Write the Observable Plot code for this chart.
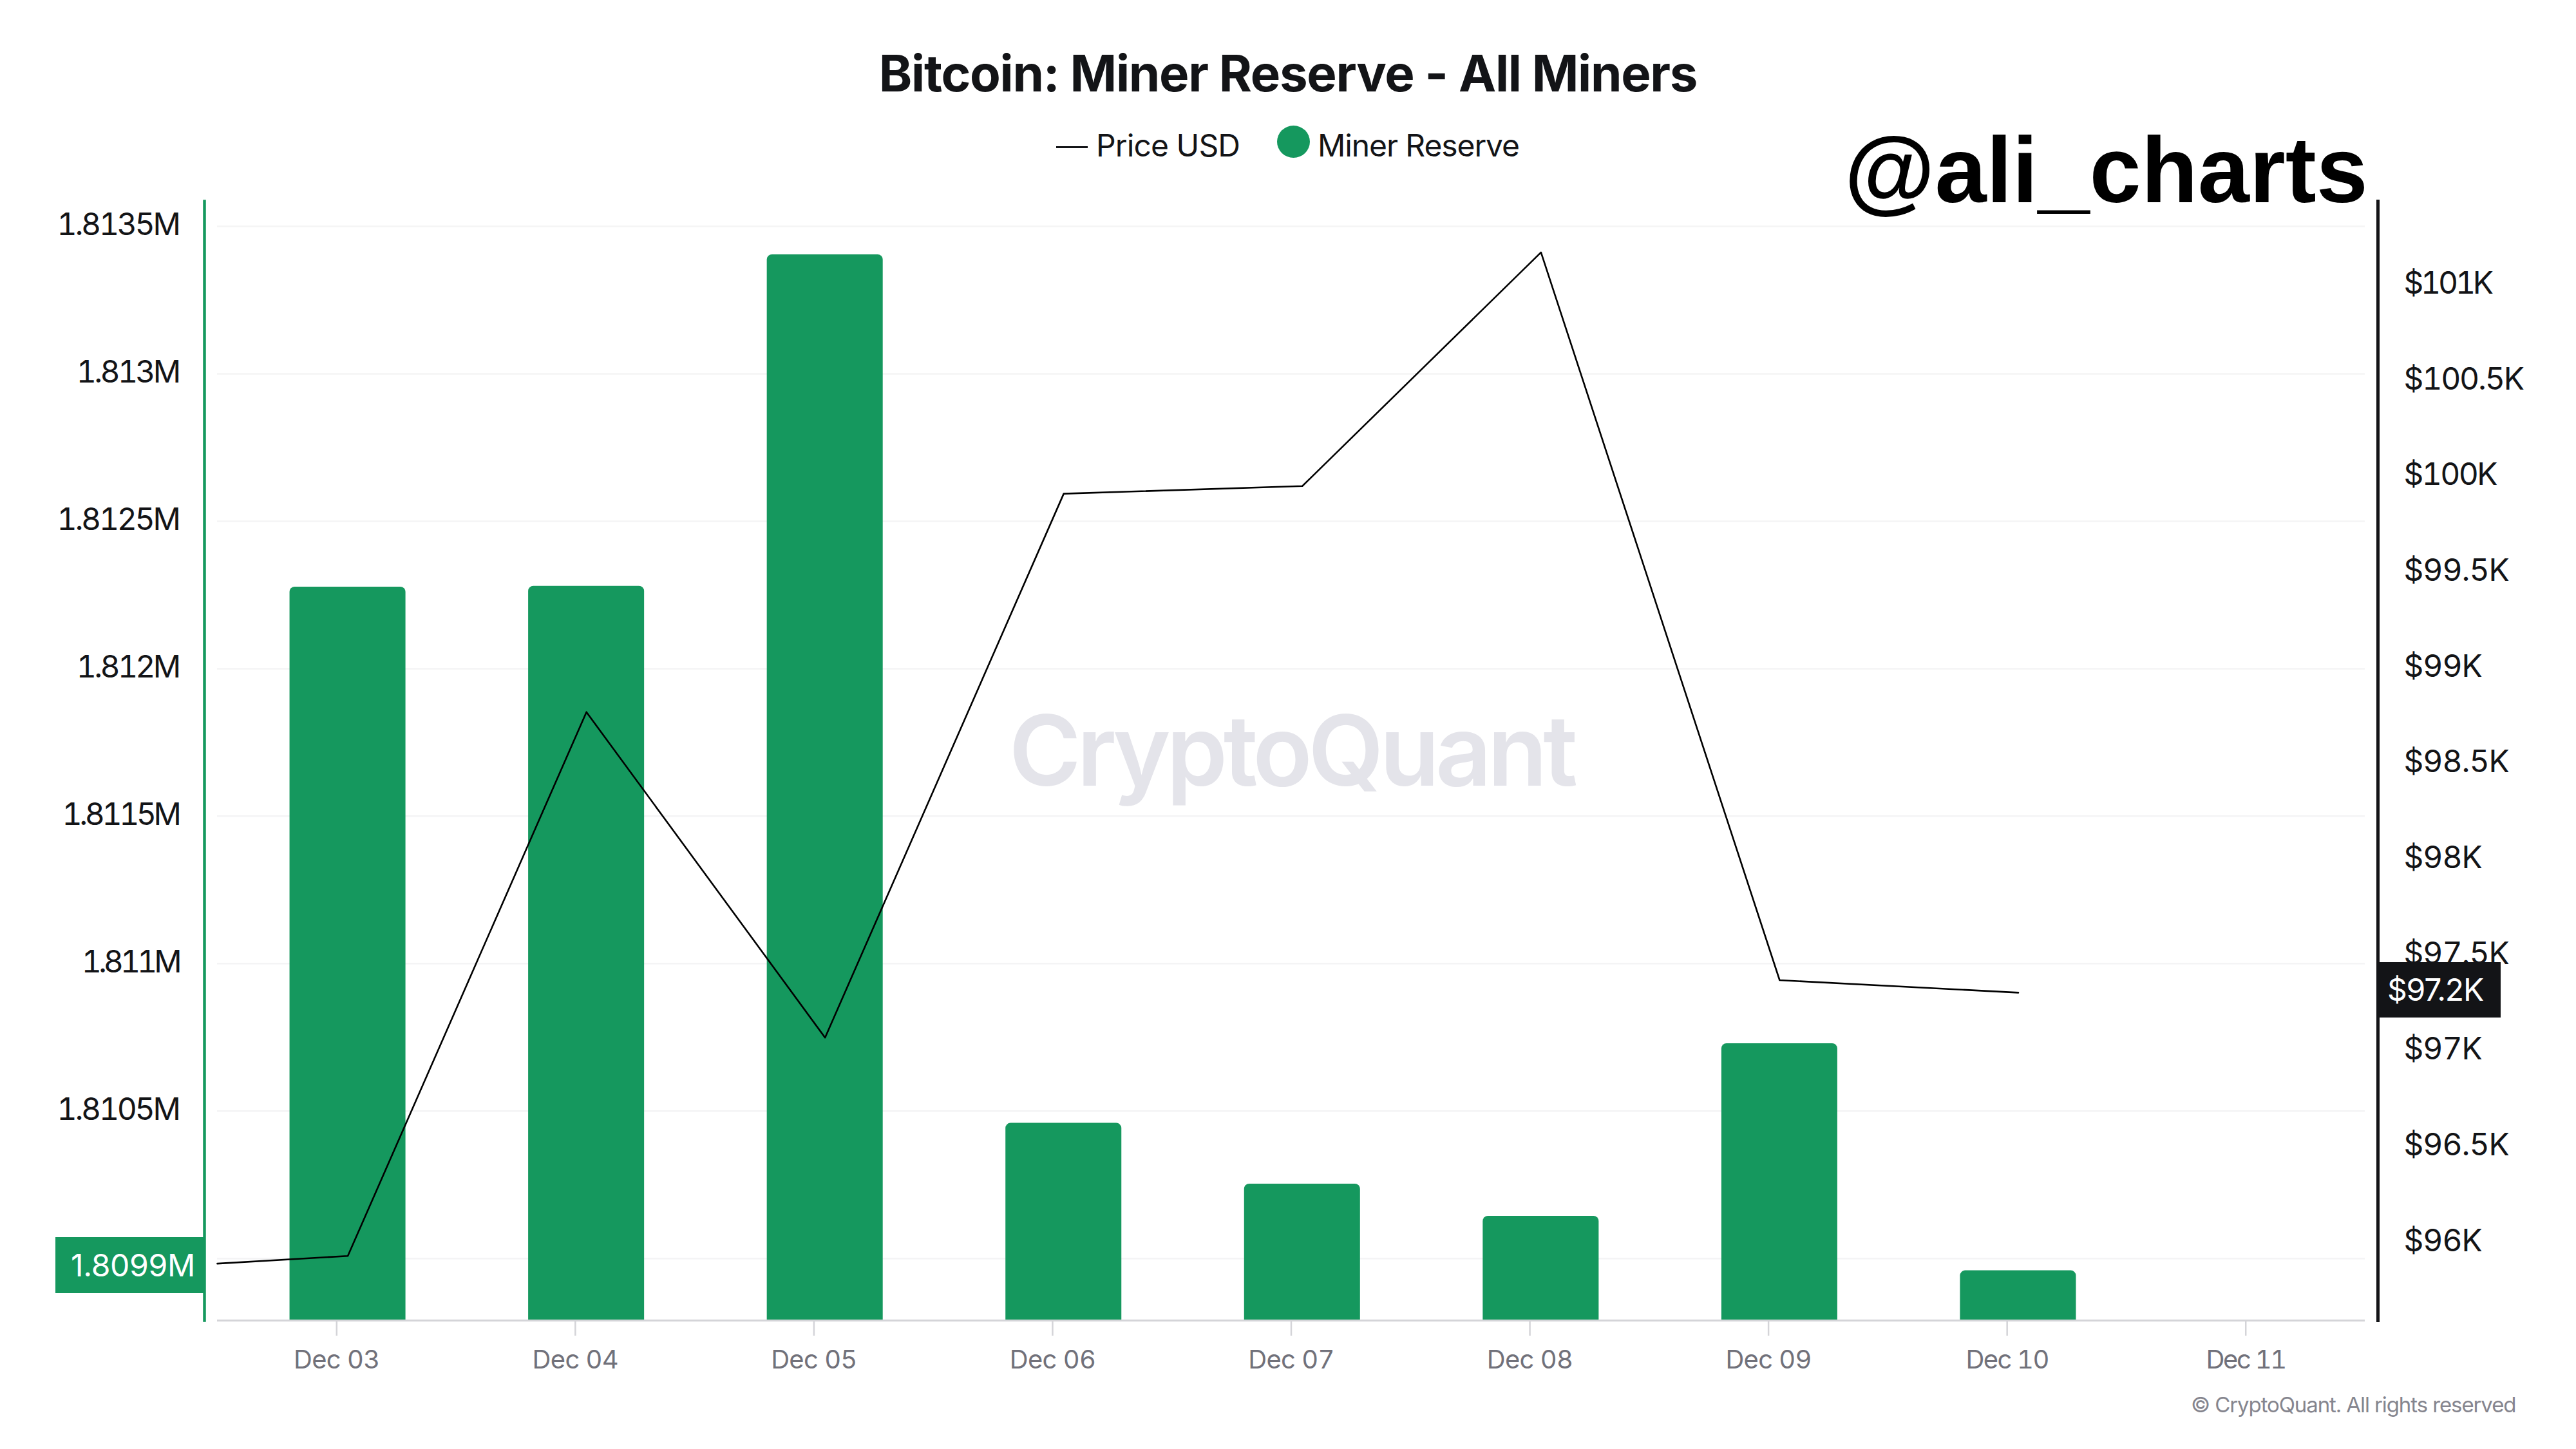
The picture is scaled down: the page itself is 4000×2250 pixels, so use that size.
<!DOCTYPE html>
<html>
<head>
<meta charset="utf-8">
<script src="https://cdn.jsdelivr.net/npm/d3@7"></script>
<script src="https://cdn.jsdelivr.net/npm/@observablehq/plot@0.6"></script>
<style>
  html, body { margin: 0; padding: 0; background: #fff; }
  #page { position: relative; width: 4000px; height: 2250px; overflow: hidden; font-family: Inter, sans-serif; color: #131417; }
  #page svg { position: absolute; left: 0; top: 0; }
  .abs { position: absolute; white-space: nowrap; line-height: 1; }
</style>
</head>
<body>
<div id="page"></div>
<script>
const days = ["2024-12-03","2024-12-04","2024-12-05","2024-12-06","2024-12-07","2024-12-08","2024-12-09","2024-12-10"];
const tickDays = [...days, "2024-12-11"];
const reserve = [1812277, 1812280, 1813404, 1810459, 1810253, 1810144, 1810729, 1809959];
const price = [95.92, 98.76, 97.06, 99.90, 99.94, 101.16, 97.36, 97.295];
const priceAtLeftEdge = 95.88;
const reserveTicks = [1810000, 1810500, 1811000, 1811500, 1812000, 1812500, 1813000, 1813500];
const reserveLabels = ["", "1.8105M", "1.811M", "1.8115M", "1.812M", "1.8125M", "1.813M", "1.8135M"];
const priceTicks = [96, 96.5, 97, 97.5, 98, 98.5, 99, 99.5, 100, 100.5, 101];
const priceLabels = ["$96K","$96.5K","$97K","$97.5K","$98K","$98.5K","$99K","$99.5K","$100K","$100.5K","$101K"];
const reserveDomain = [1809790, 1813585];
const priceDomain = [95.583, 101.427];

const GREEN = "#15985e", INK = "#131417", GREY = "#71717a";
const utc = s => new Date(s + "T00:00:00Z");
const hours = (d, h) => new Date(d.getTime() + h * 36e5);
const xDomain = [new Date("2024-12-02T12:00:00Z"), new Date("2024-12-11T12:00:00Z")];
const toLeft = d3.scaleLinear().domain(priceDomain).range(reserveDomain);
const OFFSET = 1.12;

const bars = days.map((d, i) => ({ x1: hours(utc(d), OFFSET - 5.83), x2: hours(utc(d), OFFSET + 5.83), top: reserve[i] }));
const line = [{ date: xDomain[0], price: priceAtLeftEdge },
  ...days.map((d, i) => ({ date: hours(utc(d), OFFSET), price: price[i] }))];

const plot = Plot.plot({
  width: 4000, height: 2250,
  marginTop: 312, marginBottom: 200, marginLeft: 317, marginRight: 308,
  style: { fontFamily: "Inter, sans-serif", background: "#fff", overflow: "visible" },
  x: { type: "utc", domain: xDomain, range: [337, 3672], axis: null },
  y: { domain: reserveDomain, axis: null },
  marks: [
    Plot.ruleY(reserveTicks, { x1: xDomain[0], x2: xDomain[1], stroke: "#f4f4f5", strokeWidth: 2.5 }),
    Plot.text(["CryptoQuant"], { frameAnchor: "middle", dy: -10, fontSize: 152, fontWeight: 600, fill: "#e4e4ea" }),
    Plot.rectY(bars, { x1: "x1", x2: "x2", y1: reserveDomain[0], y2: "top", fill: GREEN, rx1y2: 8, rx2y2: 8 }),
    Plot.ruleY([reserveDomain[0]], { x1: xDomain[0], x2: xDomain[1], stroke: "#d4d4d8", strokeWidth: 3 }),
    Plot.line(line, { x: "date", y: d => toLeft(d.price), stroke: "#000", strokeWidth: 2.6, curve: "linear" }),
    Plot.frame({ anchor: "left", stroke: GREEN, strokeWidth: 4.5 }),
    Plot.frame({ anchor: "right", stroke: INK, strokeWidth: 5 }),
    Plot.axisX(tickDays.map(utc), {
      anchor: "bottom", tickSize: 24, tickPadding: 22, fontSize: 40, stroke: "#d4d4d8", strokeWidth: 2.5, fill: GREY,
      tickFormat: d3.utcFormat("%b %d"), label: null
    }),
    Plot.axisY(reserveTicks, {
      anchor: "left", tickSize: 0, tickPadding: 40, fontSize: 48, fill: INK,
      tickFormat: d => reserveLabels[reserveTicks.indexOf(d)], label: null, dy: -1.5
    }),
    Plot.axisY(priceTicks.map(p => toLeft(p)), {
      anchor: "right", tickSize: 0, tickPadding: 40, fontSize: 48, fill: INK,
      tickFormat: d => priceLabels[priceTicks.findIndex(p => Math.abs(toLeft(p) - d) < 1e-6)], label: null, dy: 1
    })
  ]
});

// Tighten the tick labels: the reference's "1" is narrower than the installed Inter's.
d3.select(plot).selectAll('g[aria-label$="tick label"] text').each(function () {
  const s = this.textContent, n = s.length || 1;
  const ones = (s.match(/1/g) || []).length;
  const perOne = this.getAttribute("font-size") == 40 || this.parentNode.getAttribute("font-size") == 40 ? 5 : 8;
  const perChar = perOne === 5 ? 0.7 : 1;
  this.style.letterSpacing = (-(perOne * ones + perChar * n) / n) + "px";
});
d3.select(plot).selectAll('text').filter(function () { return this.textContent === "CryptoQuant"; }).style("letter-spacing", "-6.5px");

const page = document.getElementById("page");
page.appendChild(plot);

function add(text, css) {
  const el = document.createElement("div");
  el.className = "abs";
  el.textContent = text;
  el.style.cssText = css;
  page.appendChild(el);
  return el;
}
add("Bitcoin: Miner Reserve - All Miners", "left:0;width:4000px;text-align:center;top:75px;font-size:78px;font-weight:700;letter-spacing:-1.3px;");
add("", "left:1640px;top:227px;width:49px;height:3px;background:#131417;");
add("Price USD", "left:1702px;top:202px;font-size:48px;letter-spacing:-0.9px;");
add("", "left:1983px;top:195px;width:51px;height:50px;border-radius:50%;background:" + GREEN + ";");
add("Miner Reserve", "left:2046px;top:202px;font-size:48px;letter-spacing:-1.1px;");
add("@ali_charts", "left:2864px;top:193px;font-size:144px;font-weight:700;font-family:'Liberation Sans',sans-serif;color:#000;");
add("1.8099M", "left:86px;top:1921px;width:231px;height:87px;background:" + GREEN + ";color:#fff;font-size:48px;letter-spacing:-0.3px;line-height:87px;text-align:right;padding-right:14px;box-sizing:border-box;");
add("$97.2K", "left:3692px;top:1494px;width:191px;height:86px;background:" + INK + ";color:#fff;font-size:48px;letter-spacing:-1.2px;line-height:86px;padding-left:15px;box-sizing:border-box;");
add("© CryptoQuant. All rights reserved", "left:3402px;top:2165px;font-size:33px;letter-spacing:-1.1px;color:#85858e;");
</script>
</body>
</html>
